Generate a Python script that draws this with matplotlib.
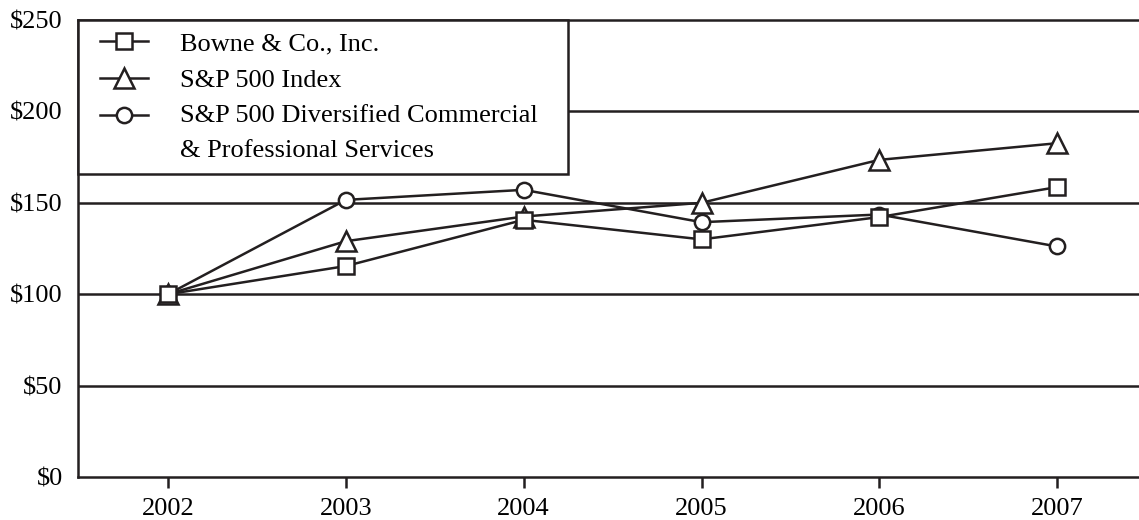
import numpy as np
import matplotlib.pyplot as plt
from matplotlib.lines import Line2D
from matplotlib.legend_handler import HandlerLine2D

plt.rcParams['font.family'] = ['Liberation Serif', 'DejaVu Serif']

# cumulative total return, $100 invested in 2002
years = [2002, 2003, 2004, 2005, 2006, 2007]
bowne = [100, 115.4, 140.7, 130.0, 142.2, 158.6]
sp500 = [100, 129.0, 142.5, 150.0, 173.5, 182.6]
services = [100, 151.6, 157.1, 139.4, 143.6, 126.1]
y_ticks = [0, 50, 100, 150, 200, 250]
y_labels = ['$0', '$50', '$100', '$150', '$200', '$250']

ink = '#231f20'
lw = 1.8


class HandlerFirstLine(HandlerLine2D):
    # put the handle next to the first line of a two-line label
    def __init__(self, shift, **kw):
        super().__init__(**kw)
        self.shift = shift

    def create_artists(self, legend, orig_handle, xdescent, ydescent,
                       width, height, fontsize, trans):
        arts = super().create_artists(legend, orig_handle, xdescent, ydescent,
                                      width, height, fontsize, trans)
        for a in arts:
            a.set_ydata(np.asarray(a.get_ydata()) + self.shift)
        return arts


fig = plt.figure(figsize=(11.39, 5.2), dpi=100)
ax = fig.add_axes([0.0685, 0.0827, 0.9315, 0.8788])

style = dict(color=ink, lw=lw, markerfacecolor='white',
             markeredgecolor=ink, markeredgewidth=lw, clip_on=False)
l3, = ax.plot(years, services, marker='o', markersize=11,
              label='S&P 500 Diversified Commercial\n& Professional Services', zorder=3, **style)
l2, = ax.plot(years, sp500, marker='^', markersize=15, label='S&P 500 Index', zorder=4, **style)
l1, = ax.plot(years, bowne, marker='s', markersize=11, label='Bowne & Co., Inc.', zorder=5, **style)

for v in [50, 100, 150, 200]:
    ax.axhline(v, color=ink, lw=lw, zorder=1)

ax.set_xlim(2001.494, 2007.46)
ax.set_ylim(0, 250)
ax.set_xticks(years)
ax.set_xticklabels([str(y) for y in years])
ax.set_yticks(y_ticks)
ax.set_yticklabels(y_labels)
ax.tick_params(axis='x', length=8, width=lw, color=ink, labelsize=19, pad=7)
ax.tick_params(axis='y', length=0, labelsize=19, pad=11)
for s in ['left', 'top', 'bottom']:
    ax.spines[s].set_color(ink)
    ax.spines[s].set_linewidth(lw)
ax.spines['right'].set_visible(False)

hmap = {Line2D: HandlerLine2D(xpad=0.38), l3: HandlerFirstLine(12.6, xpad=0.38)}
leg = ax.legend([l1, l2, l3], [l1.get_label(), l2.get_label(), l3.get_label()],
                loc='upper left', bbox_to_anchor=(0, 0.5, 0.462, 0.5),
                mode='expand', borderaxespad=0, fontsize=19, fancybox=False, framealpha=1,
                edgecolor=ink, handlelength=2.2, handletextpad=1.2,
                labelspacing=0.5, borderpad=0.45, markerscale=1.0,
                handler_map=hmap)
leg.get_frame().set_linewidth(lw)
leg.set_zorder(10)
for t in leg.get_texts():
    t.set_linespacing(1.75)

fig.savefig('out.png', dpi=100)
